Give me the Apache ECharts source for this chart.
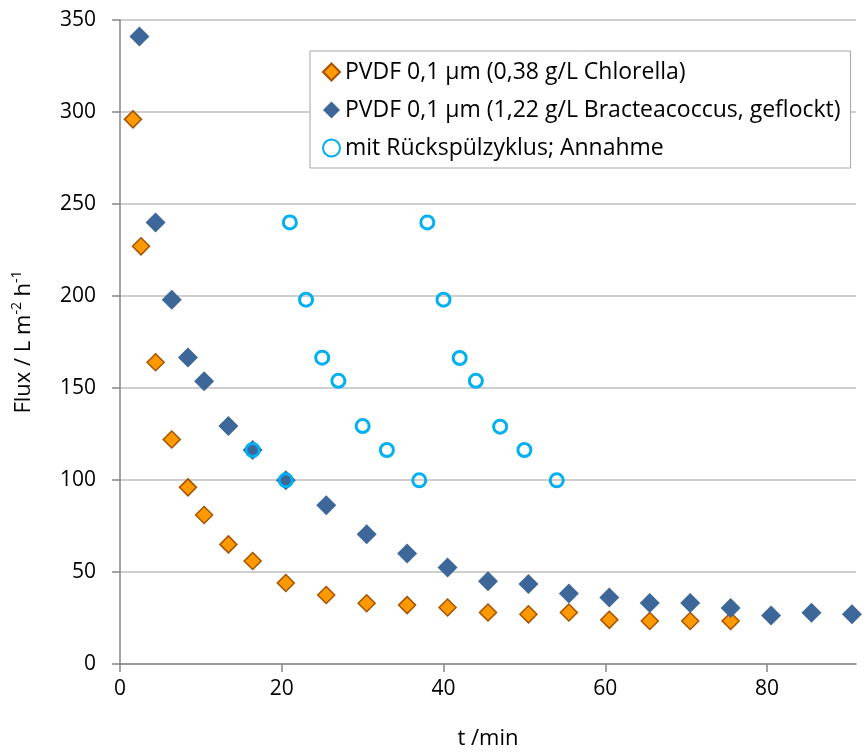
<!DOCTYPE html>
<html>
<head>
<meta charset="utf-8">
<script src="https://cdn.jsdelivr.net/npm/echarts@6/dist/echarts.min.js"></script>
<style>
  html, body { margin: 0; padding: 0; background: #fff; }
  #chart { width: 868px; height: 755px; }
</style>
</head>
<body>
<div id="chart"></div>
<script>
// Daten
var namen = [
    'PVDF 0,1 µm (0,38 g/L Chlorella)',
    'PVDF 0,1 µm (1,22 g/L Bracteacoccus, geflockt)',
    'mit Rückspülzyklus; Annahme'
];

// Chlorella
var chlorellaT = [1.6, 2.6, 4.4, 6.4, 8.4, 10.4, 13.4, 16.4, 20.5, 25.5, 30.5, 35.5, 40.5, 45.5, 50.5, 55.5, 60.5, 65.5, 70.5, 75.5];
var chlorellaFlux = [296, 227, 164, 122, 96, 81, 65, 56, 44, 37.5, 33, 32, 30.7, 28, 27, 28, 24, 23.4, 23.4, 23.4];

// Bracteacoccus, geflockt
var bractT = [2.4, 4.4, 6.4, 8.4, 10.4, 13.4, 16.4, 20.5, 25.5, 30.5, 35.5, 40.5, 45.5, 50.5, 55.5, 60.5, 65.5, 70.5, 75.5, 80.5, 85.5, 90.5];
var bractFlux = [341, 240, 198, 166.6, 153.7, 129.3, 116.3, 99.8, 86.3, 70.5, 60, 52.5, 45, 43.5, 38.3, 36.1, 33.1, 33.1, 30.4, 26.3, 27.9, 27];

// Rückspülzyklus (Annahme)
var rueckT = [16.4, 20.5, 21, 23, 25, 27, 30, 33, 37, 38, 40, 42, 44, 47, 50, 54];
var rueckFlux = [116.3, 99.8, 240, 198, 166.5, 153.9, 129.3, 116.3, 99.8, 240, 198, 166.3, 153.9, 129, 116.3, 99.8];

var xTicks = [0, 20, 40, 60, 80];

var paare = function(xs, ys) {
    var arr = [];
    for (var i = 0; i < xs.length; i++) {
        arr.push([xs[i], ys[i]]);
    }
    return arr;
};

var schrift = '"Open Sans", Lato, sans-serif';

var chart = echarts.init(document.getElementById('chart'));

var option = {
    animation: false,
    backgroundColor: '#ffffff',
    textStyle: { fontFamily: schrift },
    grid: { left: 120, right: 12, top: 20, bottom: 86 },
    legend: {
        orient: 'vertical',
        left: 310,
        top: 51,
        padding: [8, 10, 7, 12],
        itemGap: 12,
        itemWidth: 17,
        itemHeight: 17,
        backgroundColor: '#ffffff',
        borderColor: '#a6a6a6',
        borderWidth: 1,
        textStyle: { fontFamily: schrift, fontSize: 23, color: '#000', lineHeight: 26 },
        data: namen
    },
    xAxis: {
        type: 'value',
        min: 0,
        max: 91,
        interval: 20,
        name: 't /min',
        nameLocation: 'middle',
        nameGap: 64,
        nameTextStyle: { fontFamily: schrift, fontSize: 22, color: '#000' },
        axisLine: { show: true, onZero: false, lineStyle: { color: '#868686', width: 1.5 } },
        axisTick: { show: true, length: 8, customValues: xTicks, lineStyle: { color: '#868686', width: 1.5 } },
        axisLabel: { customValues: xTicks, fontFamily: schrift, fontSize: 21, color: '#000', margin: 15 },
        splitLine: { show: false }
    },
    yAxis: {
        type: 'value',
        min: 0,
        max: 350,
        interval: 50,
        name: '{n|Flux / L m}{s|-2}{n| h}{s|-1}',
        nameLocation: 'middle',
        nameGap: 82,
        nameTextStyle: {
            rich: {
                n: { fontFamily: schrift, fontSize: 22, color: '#000', lineHeight: 28 },
                s: { fontFamily: schrift, fontSize: 14, color: '#000', verticalAlign: 'top', lineHeight: 28 }
            }
        },
        axisLine: { show: true, lineStyle: { color: '#868686', width: 1.5 } },
        axisTick: { show: true, length: 8, lineStyle: { color: '#868686', width: 1.5 } },
        axisLabel: { fontFamily: schrift, fontSize: 21, color: '#000', margin: 24 },
        splitLine: { show: true, lineStyle: { color: '#bebebe', width: 1.5 } }
    },
    series: [
        {
            name: namen[0],
            type: 'scatter',
            symbol: 'diamond',
            symbolSize: 17,
            itemStyle: { color: '#ff9900', borderColor: '#a55200', borderWidth: 1.5, opacity: 1 },
            data: paare(chlorellaT, chlorellaFlux)
        },
        {
            name: namen[1],
            type: 'scatter',
            symbol: 'diamond',
            symbolSize: 20,
            itemStyle: { color: '#3d6699', opacity: 1 },
            data: paare(bractT, bractFlux)
        },
        {
            name: namen[2],
            type: 'scatter',
            symbol: 'circle',
            symbolSize: 13,
            itemStyle: { color: 'rgba(0,0,0,0)', borderColor: '#00b0f0', borderWidth: 3, opacity: 1 },
            data: paare(rueckT, rueckFlux)
        }
    ]
};

chart.setOption(option);
</script>
</body>
</html>
